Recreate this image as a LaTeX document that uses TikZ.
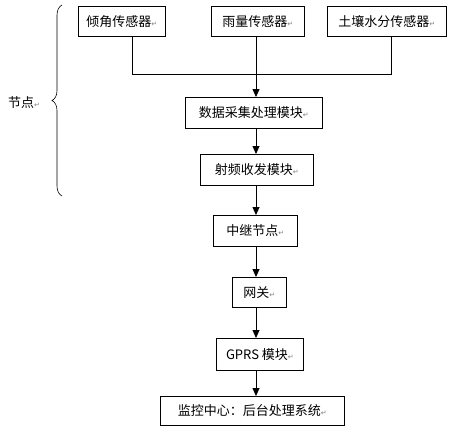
\documentclass[tikz,border=0pt]{standalone}
\usepackage{fontspec}
\setmainfont{Noto Sans CJK SC}
\newfontfamily\symfont{DejaVu Sans}
\usetikzlibrary{arrows.meta,decorations.pathreplacing}
\newcommand{\parmark}{{\symfont\fontsize{7}{7}\selectfont\textcolor{gray}{↵}}}
\tikzset{
  box/.style={draw=black, line width=0.8pt, rectangle, inner sep=0pt, font=\fontsize{13}{15}\selectfont, anchor=north west},
  conn/.style={line width=0.8pt, draw=black},
  arr/.style={conn, -{Triangle[length=8pt,width=7pt]}},
}
\begin{document}
\begin{tikzpicture}[x=1pt,y=-1pt]
\useasboundingbox (0,0) rectangle (450,432);
\fill[white] (0,0) rectangle (450,432);
\node[box, minimum width=87pt, minimum height=30pt] (s1) at (78,6) {倾角传感器\parmark};
\node[box, minimum width=93pt, minimum height=30pt] (s2) at (211,6) {雨量传感器\parmark};
\node[box, minimum width=119pt, minimum height=30pt] (s3) at (327,6) {土壤水分传感器\parmark};
\node[box, minimum width=137pt, minimum height=31pt] (dp) at (185,97) {数据采集处理模块\parmark};
\node[box, minimum width=113pt, minimum height=31pt] (rf) at (200,154) {射频收发模块\parmark};
\node[box, minimum width=84pt, minimum height=31pt] (rl) at (213,215) {中继节点\parmark};
\node[box, minimum width=54pt, minimum height=30pt] (gw) at (232,277) {网关\parmark};
\node[box, minimum width=87pt, minimum height=32pt] (gp) at (216,338) {GPRS 模块\parmark};
\node[box, minimum width=184pt, minimum height=29pt] (mc) at (160,396) {监控中心：后台处理系统\parmark};
\node[font=\fontsize{13}{15}\selectfont, anchor=west, inner sep=0pt] (jd) at (8,103) {节点\parmark};
\coordinate (j1) at (132,74);
\coordinate (j3) at (391,74);
\coordinate (j2) at (256,74);
\draw[conn] (s1.south -| j1) -- (j1) -- (j3) -- (s3.south -| j3);
\draw[arr] (s2.south -| j2) -- (dp.north -| j2);
\draw[arr] (dp.south -| j2) -- (rf.north -| j2);
\draw[arr] (rf.south -| j2) -- (rl.north -| j2);
\draw[arr] (rl.south -| j2) -- (gw.north -| j2);
\draw[arr] (gw.south -| j2) -- (gp.north -| j2);
\draw[arr] (gp.south -| j2) -- (mc.north -| j2);
\coordinate (bt) at (62,5);
\coordinate (bb) at (62,196);
\draw[conn, line width=0.6pt, decorate, decoration={brace, amplitude=10pt}] (bb) -- (bt);
\end{tikzpicture}
\end{document}
